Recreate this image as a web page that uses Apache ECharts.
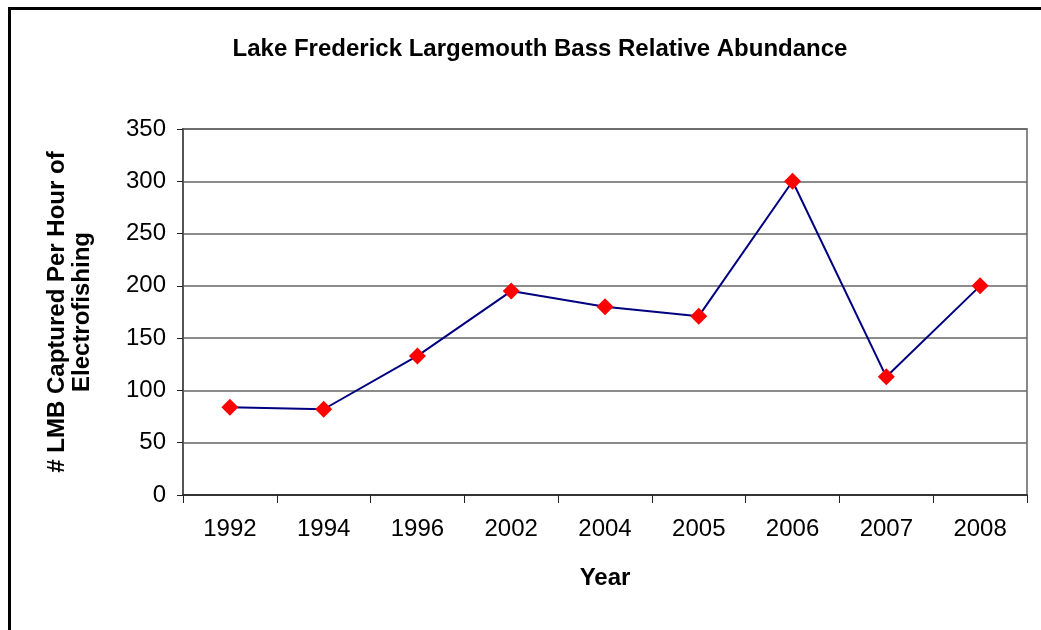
<!DOCTYPE html>
<html>
<head>
<meta charset="utf-8">
<script src="https://cdn.jsdelivr.net/npm/echarts@6/dist/echarts.min.js"></script>
<style>
html,body{margin:0;padding:0;background:#fff;}
#chart{width:1041px;height:630px;}
</style>
</head>
<body>
<div id="chart"></div>
<script>
const years = ['1992','1994','1996','2002','2004','2005','2006','2007','2008'];
const lmbPerHour = [84, 82, 133, 195, 180, 171, 300, 113, 200];
const yTicks = {min: 0, max: 350, interval: 50};

const FONT = '"Liberation Sans", Arial, sans-serif';
const chart = echarts.init(document.getElementById('chart'), null, {renderer: 'canvas'});
chart.setOption({
  backgroundColor: '#fff',
  animation: false,
  graphic: [{
    type: 'rect', left: 7, top: 6, shape: {width: 1100, height: 700},
    style: {fill: 'none', stroke: '#000', lineWidth: 3}, z: 100, silent: true
  }],
  title: {
    text: 'Lake Frederick Largemouth Bass Relative Abundance',
    left: 535, top: 32, textAlign: 'center',
    textStyle: {fontFamily: FONT, fontSize: 24, fontWeight: 'bold', color: '#000'}
  },
  grid: {left: 183, right: 14, top: 129, bottom: 135, show: true, borderColor: '#888', borderWidth: 2},
  xAxis: {
    type: 'category', data: years, boundaryGap: true,
    name: 'Year', nameLocation: 'middle', nameGap: 71,
    nameTextStyle: {fontFamily: FONT, fontSize: 24, fontWeight: 'bold', color: '#000'},
    axisLine: {lineStyle: {color: '#222', width: 1.5}},
    axisTick: {show: true, length: 8, lineStyle: {color: '#222'}},
    axisLabel: {fontFamily: FONT, fontSize: 24, color: '#000', margin: 22}
  },
  yAxis: {
    type: 'value', min: yTicks.min, max: yTicks.max, interval: yTicks.interval,
    name: '# LMB Captured Per Hour of\nElectrofishing', nameLocation: 'middle', nameGap: 88,
    nameTextStyle: {fontFamily: FONT, fontSize: 24, fontWeight: 'bold', color: '#000', lineHeight: 25},
    axisLine: {show: true, lineStyle: {color: '#555', width: 2}},
    axisTick: {show: true, length: 6, lineStyle: {color: '#222'}},
    axisLabel: {fontFamily: FONT, fontSize: 24, color: '#000', margin: 17},
    splitLine: {show: true, lineStyle: {color: '#666', width: 1.5}}
  },
  series: [{
    type: 'line', data: lmbPerHour,
    symbol: 'diamond', symbolSize: 17,
    itemStyle: {color: '#ff0000'},
    lineStyle: {color: '#000080', width: 2}
  }]
});
</script>
</body>
</html>
